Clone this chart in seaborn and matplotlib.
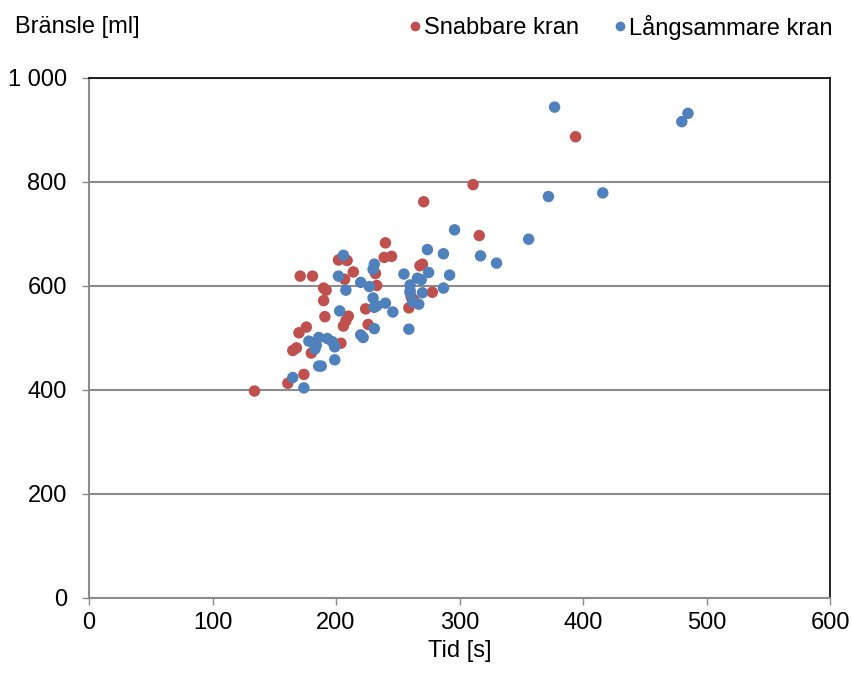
import pandas as pd
import numpy as np
import matplotlib
matplotlib.use('Agg')
import matplotlib.pyplot as plt
import seaborn as sns
from matplotlib.ticker import FuncFormatter

# Data (time [s], fuel [ml])
snabb_tid = [134, 161, 165, 168, 170, 171, 174, 176, 180, 181, 190, 192, 190, 191,
             202, 209, 207, 214, 204, 206, 208, 210, 224, 226, 232, 233, 240, 239,
             245, 259, 261, 263, 268, 270, 271, 278, 311, 316, 394]
snabb_bransle = [398, 413, 476, 481, 510, 619, 430, 521, 471, 619, 596, 592, 572, 541,
                 650, 649, 613, 627, 490, 523, 533, 542, 556, 526, 624, 601, 683, 655,
                 657, 558, 578, 573, 639, 642, 762, 588, 795, 697, 887]

lang_tid = [377, 480, 485, 372, 416, 296, 356, 274, 287, 317, 330, 206, 231, 230,
            202, 255, 275, 266, 269, 292, 220, 227, 208, 260, 260, 260, 270, 287,
            230, 262, 267, 240, 231, 233, 246, 203, 231, 259, 220, 222, 178, 186,
            193, 197, 184, 183, 199, 199, 186, 188, 165, 174]
lang_bransle = [944, 916, 932, 772, 779, 708, 690, 670, 662, 658, 644, 659, 642, 632,
                619, 623, 626, 615, 612, 621, 607, 599, 592, 602, 591, 587, 587, 596,
                577, 570, 565, 567, 559, 562, 550, 552, 518, 517, 506, 501, 494, 501,
                499, 493, 486, 479, 483, 458, 446, 446, 424, 404]

serier = ['Snabbare kran', 'Långsammare kran']
farger = ['#C0504D', '#4F81BD']

df = pd.concat([
    pd.DataFrame({'Tid': snabb_tid, 'Bransle': snabb_bransle, 'Serie': serier[0]}),
    pd.DataFrame({'Tid': lang_tid, 'Bransle': lang_bransle, 'Serie': serier[1]}),
], ignore_index=True)

sns.set_style('white')
plt.rcParams['font.family'] = ['Liberation Sans', 'DejaVu Sans']
plt.rcParams['text.color'] = 'black'
plt.rcParams['xtick.labelcolor'] = 'black'
plt.rcParams['ytick.labelcolor'] = 'black'

fs = 17

fig = plt.figure(figsize=(8.52, 6.88), dpi=100)
ax = fig.add_axes([89 / 852, 1 - 598 / 688, (830 - 89) / 852, (598 - 78) / 688])

sns.scatterplot(data=df, x='Tid', y='Bransle', hue='Serie', hue_order=serier,
                palette=farger, s=68, edgecolor='none', linewidth=0, ax=ax, legend=False)

ax.set_xlim(0, 600)
ax.set_ylim(0, 1000)
ax.set_xticks(range(0, 601, 100))
ax.set_yticks(range(0, 1001, 200))
ax.yaxis.set_major_formatter(FuncFormatter(lambda v, p: f"{int(v):,}".replace(',', ' ')))
ax.grid(axis='y', color='#8c8c8c', linewidth=1.5)
ax.set_axisbelow(True)

for side in ['left', 'bottom']:
    ax.spines[side].set_color('#8c8c8c')
    ax.spines[side].set_linewidth(1.5)
for side in ['top', 'right']:
    ax.spines[side].set_color('black')
    ax.spines[side].set_linewidth(1.2)

ax.tick_params(axis='both', direction='out', length=5, width=1, color='#8c8c8c',
               labelsize=fs, left=True, bottom=True)
ax.tick_params(axis='y', pad=11)
ax.tick_params(axis='x', pad=5)
ax.set_xlabel('')
ax.set_ylabel('')

fig.text(15 / 852, 1 - 27 / 688, 'Bränsle [ml]', fontsize=fs, va='center', ha='left')
fig.text(459.5 / 852, 1 - 651 / 688, 'Tid [s]', fontsize=fs, va='center', ha='center')

handles = [plt.Line2D([], [], marker='o', linestyle='', color=c, markersize=6) for c in farger]
fig.legend(handles, serier, loc='center right', bbox_to_anchor=(842 / 852, 1 - 27 / 688),
           ncol=2, frameon=False, fontsize=fs, handletextpad=0.0, columnspacing=1.3,
           handlelength=0.8, borderaxespad=0)

fig.savefig('out.png', dpi=100)
